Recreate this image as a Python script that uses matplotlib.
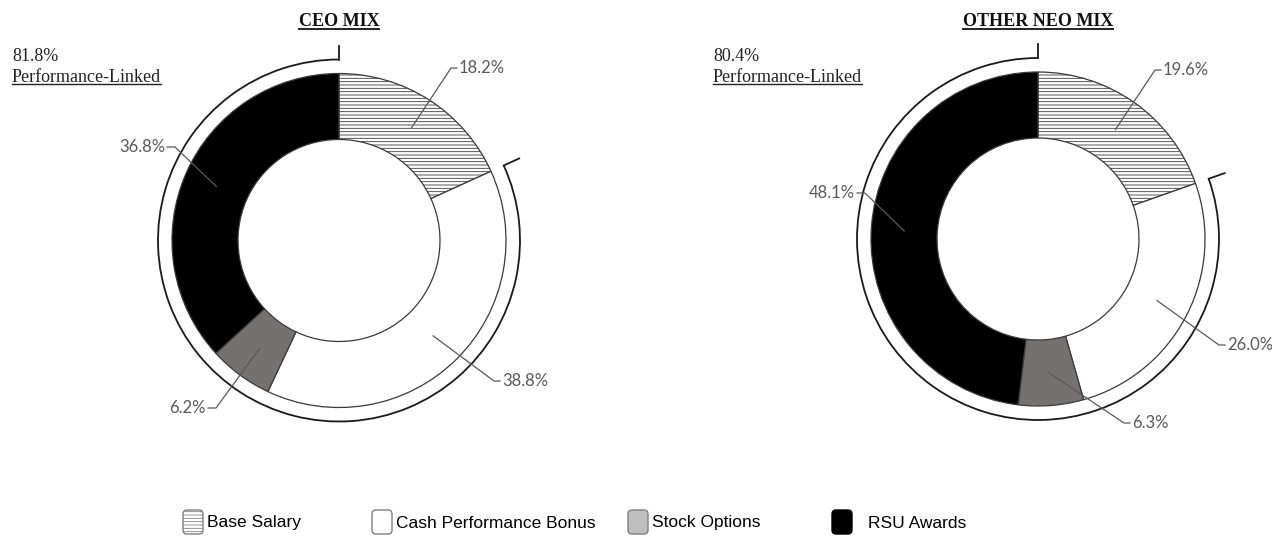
import numpy as np
import matplotlib
matplotlib.use('Agg')
import matplotlib.pyplot as plt
from matplotlib.patches import Arc, FancyBboxPatch

W, H = 1272, 543

categories = ['Base Salary', 'Cash Performance Bonus', 'Stock Options', 'RSU Awards']
ceo_values = [18.2, 38.8, 6.2, 36.8]
neo_values = [19.6, 26.0, 6.3, 48.1]
ceo_linked = 81.8
neo_linked = 80.4
titles = ['CEO MIX', 'OTHER NEO MIX']

pie_colors = ['white', 'white', '#767171', 'black']
pie_hatches = ['-----', '', '', '']
legend_colors = ['white', 'white', '#bfbfbf', 'black']

plt.rcParams['hatch.linewidth'] = 0.6

R_OUT, R_IN, R_BR = 167, 101, 181
grey = '#595959'

fig = plt.figure(figsize=(W / 100, H / 100), dpi=100)
ax = fig.add_axes([0, 0, 1, 1])


def py(y):
    # pixel row -> data y
    return H - y


# layout for each donut: centre, linked-text x, label anchors (x, y, side)
charts = [
    dict(values=ceo_values, linked=ceo_linked, title=titles[0], cx=339, cy=240.5, lx=12,
         labels=[(459, 68, 'left'), (502, 381, 'left'), (206, 408, 'right'), (165, 147, 'right')]),
    dict(values=neo_values, linked=neo_linked, title=titles[1], cx=1038, cy=239, lx=713,
         labels=[(1163, 70, 'left'), (1227, 345, 'left'), (1132, 423, 'left'), (855, 193, 'right')]),
]

underlined = []

for ch in charts:
    cx, cy = ch['cx'], py(ch['cy'])
    wedges, _ = ax.pie(ch['values'], colors=pie_colors, hatch=pie_hatches, startangle=90,
                       counterclock=False, center=(cx, cy), radius=R_OUT,
                       wedgeprops=dict(width=R_OUT - R_IN, edgecolor='#3a3a3a', linewidth=0.9))

    # bracket round the performance-linked part
    end = wedges[0].theta1
    ax.add_patch(Arc((cx, cy), 2 * R_BR, 2 * R_BR, theta1=90, theta2=end,
                     color='#1a1a1a', lw=1.3))
    ax.plot([cx, cx], [cy + R_BR, cy + R_BR + 14], color='#1a1a1a', lw=1.3)
    a = np.deg2rad(end)
    ax.plot([cx + R_BR * np.cos(a), cx + (R_BR + 17) * np.cos(a)],
            [cy + R_BR * np.sin(a), cy + (R_BR + 17) * np.sin(a)], color='#1a1a1a', lw=1.3)

    # percentage labels with leader lines
    r_mid = (R_OUT + R_IN) / 2
    for w, v, (tx, ty, side) in zip(wedges, ch['values'], ch['labels']):
        m = np.deg2rad((w.theta1 + w.theta2) / 2)
        sx, sy = cx + r_mid * np.cos(m), cy + r_mid * np.sin(m)
        if side == 'left':
            ex, dx = tx - 8, tx - 2
        else:
            ex, dx = tx + 10, tx + 2
        ax.plot([sx, ex, dx], [sy, py(ty), py(ty)], color=grey, lw=0.9)
        ax.text(tx, py(ty), f'{v:.1f}%', ha=side, va='center', color=grey,
                fontsize=12, family='Lato')

    t = ax.text(cx, py(26), ch['title'], ha='center', va='baseline', fontsize=13,
                fontweight='bold', family='Liberation Serif', color='#111111')
    underlined.append((t, 28.5, 1.4))
    ax.text(ch['lx'], py(61), f"{ch['linked']:.1f}%", ha='left', va='baseline',
            fontsize=13, family='Liberation Serif', color='#222222')
    t = ax.text(ch['lx'], py(81.5), 'Performance-Linked', ha='left', va='baseline',
                fontsize=13, family='Liberation Serif', color='#222222')
    underlined.append((t, 84, 1.0))

# legend along the bottom
icon_x = [183, 372, 628, 832]
text_x = [207, 396, 652, 868]
for name, col, hat, ix, txx in zip(categories, legend_colors, pie_hatches, icon_x, text_x):
    box = FancyBboxPatch((ix, py(534)), 20, 24, boxstyle='round,pad=0,rounding_size=4',
                         facecolor=col, edgecolor='#7f7f7f' if col != 'black' else 'black',
                         hatch=hat, lw=1.0)
    ax.add_patch(box)
    ax.text(txx, py(523), name, ha='left', va='center', fontsize=12.5,
            family='Liberation Sans', color='black')

ax.set_xlim(0, W)
ax.set_ylim(0, H)
ax.set_aspect('equal')
ax.axis('off')

fig.canvas.draw()
for t, uy, lw in underlined:
    bb = t.get_window_extent()
    ax.plot([bb.x0, bb.x1], [py(uy), py(uy)], color='#222222', lw=lw)

fig.savefig('out.png', dpi=100, facecolor='white')
